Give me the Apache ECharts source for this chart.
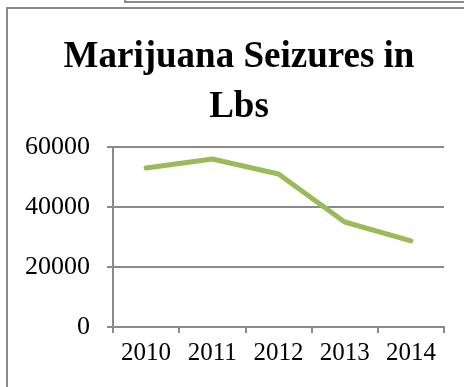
<!DOCTYPE html>
<html>
<head>
<meta charset="utf-8">
<script src="https://cdn.jsdelivr.net/npm/echarts@6/dist/echarts.min.js"></script>
<style>
  html, body { margin: 0; padding: 0; background: #fff; overflow: hidden; }
  #wrap { position: relative; width: 464px; height: 387px; overflow: hidden; }
  #topBox { position: absolute; left: 124px; top: -20px; width: 400px; height: 23px;
            border: 2px solid #8a8a8a; box-sizing: border-box; }
  #frame { position: absolute; left: 6px; top: 7px; width: 500px; height: 420px;
           border-left: 2px solid #8a8a8a; border-top: 2px solid #8a8a8a; }
  #chart { position: absolute; left: 0; top: 0; width: 464px; height: 387px; }
</style>
</head>
<body>
<div id="wrap">
  <div id="topBox"></div>
  <div id="frame"></div>
  <div id="chart"></div>
</div>
<script>
// Annual marijuana seizures (lbs)
const years = ['2010', '2011', '2012', '2013', '2014'];
const seizures = [53000, 56000, 51000, 35000, 28700];
const yTicks = { min: 0, max: 60000, interval: 20000 };

const serif = '"Liberation Serif", "Times New Roman", serif';
const axisGray = '#8a8a8a';

const chart = echarts.init(document.getElementById('chart'), null, { renderer: 'canvas' });
chart.setOption({
  backgroundColor: 'transparent',
  animation: false,
  title: {
    text: 'Marijuana Seizures in\nLbs',
    left: 239,
    top: 32,
    textAlign: 'center',
    padding: 0,
    textStyle: {
      fontFamily: serif,
      fontWeight: 'bold',
      fontSize: 37,
      lineHeight: 50,
      color: '#000'
    }
  },
  grid: { left: 113, top: 147, width: 331, height: 180, containLabel: false },
  xAxis: {
    type: 'category',
    data: years,
    boundaryGap: true,
    axisLine: { show: true, lineStyle: { color: axisGray, width: 2 } },
    axisTick: { show: true, interval: 0, length: 6, lineStyle: { color: axisGray, width: 2 } },
    axisLabel: { interval: 0, margin: 14, fontFamily: serif, fontSize: 25, color: '#000' },
    splitLine: { show: false }
  },
  yAxis: {
    type: 'value',
    min: yTicks.min,
    max: yTicks.max,
    interval: yTicks.interval,
    axisLine: { show: true, lineStyle: { color: axisGray, width: 2 } },
    axisTick: { show: true, length: 6, lineStyle: { color: axisGray, width: 2 } },
    axisLabel: {
      margin: 23, fontFamily: serif, fontSize: 26, color: '#000',
      formatter: (v) => String(v)
    },
    splitLine: { show: true, lineStyle: { color: axisGray, width: 2 } }
  },
  series: [{
    type: 'line',
    data: seizures,
    symbol: 'none',
    lineStyle: { color: '#9BBB59', width: 5, cap: 'round', join: 'round' }
  }]
});
</script>
</body>
</html>
